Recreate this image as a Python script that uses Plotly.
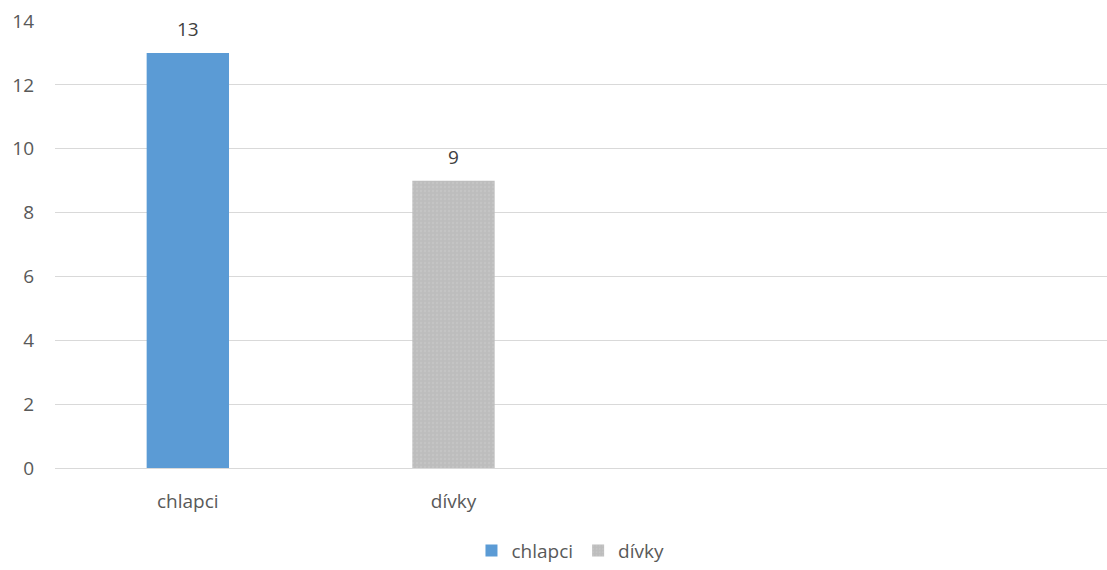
import plotly.graph_objects as go

categories = ["chlapci", "dívky"]
values = [13, 9]
colors = ["#5B9BD5", "#BDBDBD"]
y_ticks = [0, 2, 4, 6, 8, 10, 12, 14]

fig = go.Figure()
for i, (cat, val, col) in enumerate(zip(categories, values, colors)):
    marker = dict(color=col, line=dict(width=0))
    if i == 1:
        marker["pattern"] = dict(shape=".", fgcolor="#C9C9C9", bgcolor=col, size=4, solidity=0.3)
    fig.add_trace(go.Bar(
        x=[i], y=[val], name=cat, marker=marker, width=0.31,
    ))
    fig.add_annotation(x=i, y=val, text=str(val), showarrow=False, yshift=24,
                       font=dict(size=19, color="#404040"))

fig.update_layout(
    width=1107, height=570,
    margin=dict(l=55, r=0, t=21, b=96),
    plot_bgcolor="white", paper_bgcolor="white",
    barmode="overlay",
    font=dict(family="Open Sans, Noto Sans, sans-serif", size=19, color="#595959"),
    showlegend=True,
    legend=dict(orientation="h", x=0.49, xanchor="center", y=-0.185, yanchor="middle",
                font=dict(size=19, color="#595959"), itemwidth=30, tracegroupgap=0),
)
fig.update_xaxes(range=[-0.5, 3.46], tickvals=list(range(len(categories))), ticktext=categories,
                 showgrid=False, zeroline=False, showline=False, ticks="", ticklabelstandoff=20,
                 automargin=False, tickfont=dict(size=19, color="#595959"))
fig.update_yaxes(range=[0, 14], tickvals=y_ticks, showgrid=True, gridcolor="#D9D9D9", gridwidth=1,
                 zeroline=True, zerolinecolor="#D9D9D9", zerolinewidth=1, showline=False,
                 automargin=False, ticks="", ticklabelstandoff=20, tickfont=dict(size=19, color="#595959"))

fig.write_html("out.html", config={"displayModeBar": False},
               post_script="document.body.style.margin='0';document.body.style.overflow='hidden';")
